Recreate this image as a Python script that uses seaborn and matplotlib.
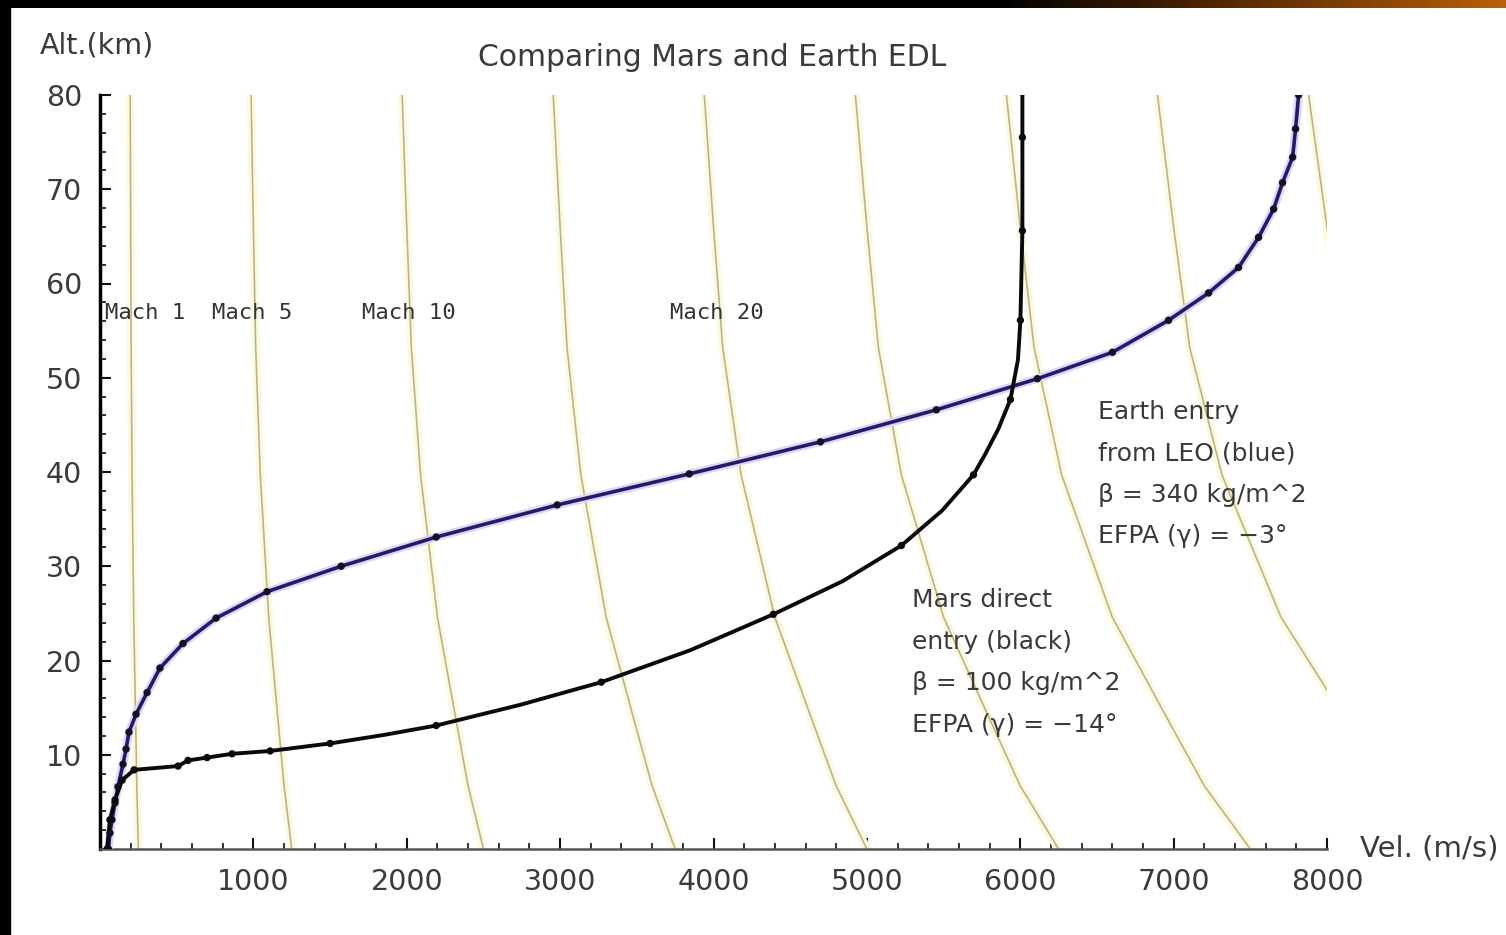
import numpy as np
import pandas as pd
import matplotlib.pyplot as plt
import seaborn as sns
from matplotlib.colors import LinearSegmentedColormap

# Earth entry from LEO (blue curve)
earth_vel = [7815, 7795, 7776, 7710, 7652, 7554, 7423, 7228, 6967, 6601, 6112,
             5453, 4697, 3842, 2981, 2192, 1572, 1089, 757, 541, 391, 307, 235,
             189, 170, 150, 117, 98, 78, 65, 55]
earth_alt = [80.0, 76.4, 73.4, 70.7, 67.9, 64.9, 61.7, 59.0, 56.1, 52.7, 49.9,
             46.6, 43.2, 39.8, 36.5, 33.1, 30.0, 27.3, 24.5, 21.8, 19.2, 16.6, 14.3,
             12.4, 10.6, 9.0, 6.6, 4.9, 3.1, 1.7, 0.0]

# Mars direct entry (black curve): marked points
mars_vel = [6014, 6014, 6014, 6001, 5936, 5695, 5225, 4390, 3268,
            2192, 1500, 1109, 861, 698, 574, 509, 222, 144, 98, 65, 46]
mars_alt = [80.3, 75.5, 65.6, 56.1, 47.7, 39.7, 32.2, 24.9, 17.7,
            13.1, 11.2, 10.4, 10.1, 9.7, 9.4, 8.8, 8.4, 7.3, 5.2, 3.1, 0.0]
# extra points along the black trace (no marker)
mars_path_vel = [6014, 6014, 6001, 5985, 5936, 5858, 5772, 5695, 5490, 5225, 4840,
                 4390, 3850, 3268, 2740, 2192, 1850, 1500, 1109, 861, 698,
                 574, 509, 222, 144, 98, 65, 46]
mars_path_alt = [80.3, 65.6, 56.1, 51.9, 47.7, 44.6, 41.9, 39.7, 35.9, 32.2, 28.4,
                 24.9, 21.1, 17.7, 15.3, 13.1, 12.1, 11.2, 10.4, 10.1, 9.7,
                 9.4, 8.8, 8.4, 7.3, 5.2, 3.1, 0.0]

# speed of sound profile (Mars)
sound_alt = [0, 6.7, 13.8, 24.6, 39.7, 53.2, 66, 80]
sound_speed = [250, 240, 232, 220, 209, 203, 200, 197]
mach_numbers = [1, 5, 10, 15, 20, 25, 30, 35, 40]

mach_labels = ["Mach 1", "Mach 5", "Mach 10", "Mach 20"]
mach_label_vel = [33, 730, 1709, 3718]

earth_text = ["Earth entry", "from LEO (blue)", "β = 340 kg/m^2", "EFPA (γ) = −3°"]
mars_text = ["Mars direct", "entry (black)", "β = 100 kg/m^2", "EFPA (γ) = −14°"]

earth_df = pd.DataFrame({"vel": earth_vel, "alt": earth_alt})
mars_df = pd.DataFrame({"vel": mars_vel, "alt": mars_alt})
mars_path = pd.DataFrame({"vel": mars_path_vel, "alt": mars_path_alt})
mach_df = pd.DataFrame([
    {"mach": m, "vel": m * a, "alt": h}
    for m in mach_numbers for a, h in zip(sound_speed, sound_alt)
])

sns.set_theme(style="white")
plt.rcParams['font.family'] = ['DejaVu Sans']
txt = '#3a3a3a'

fig = plt.figure(figsize=(15.06, 9.35), dpi=100)
ax = fig.add_axes([100 / 1506, 86 / 935, 1227 / 1506, 754 / 935])

# Mach lines: pale glow + thin olive core
sns.lineplot(data=mach_df, x="vel", y="alt", units="mach", estimator=None, sort=False,
             color='#fbf9e2', linewidth=6, ax=ax, zorder=1)
sns.lineplot(data=mach_df, x="vel", y="alt", units="mach", estimator=None, sort=False,
             color='#bdb382', linewidth=1.2, ax=ax, zorder=2)

# Earth curve
sns.lineplot(data=earth_df, x="vel", y="alt", sort=False, estimator=None,
             color='#ddd6f6', linewidth=6, ax=ax, zorder=3)
sns.lineplot(data=earth_df, x="vel", y="alt", sort=False, estimator=None,
             color='#27196a', linewidth=2.6, ax=ax, zorder=4)
sns.scatterplot(data=earth_df, x="vel", y="alt", color='#111122', s=28,
                edgecolor='none', ax=ax, zorder=5)

# Mars curve
sns.lineplot(data=mars_path, x="vel", y="alt", sort=False, estimator=None,
             color='#0a0a0a', linewidth=2.8, ax=ax, zorder=4)
sns.scatterplot(data=mars_df, x="vel", y="alt", color='#0a0a0a', s=28,
                edgecolor='none', ax=ax, zorder=5)

for lab, v in zip(mach_labels, mach_label_vel):
    ax.text(v, 56.9, lab, fontsize=16, family='DejaVu Sans Mono', color='#333333',
            va='center', ha='left', zorder=6)

for i, line in enumerate(earth_text):
    ax.text(6504, 46.4 - i * 4.4, line, fontsize=18, color=txt, va='center', ha='left')
for i, line in enumerate(mars_text):
    ax.text(5297, 26.4 - i * 4.4, line, fontsize=18, color=txt, va='center', ha='left')

ax.set_xlim(0, 8000)
ax.set_ylim(0, 80)
ax.set_xlabel("")
ax.set_ylabel("")
ax.set_xticks(range(1000, 8001, 1000))
ax.set_xticks(range(0, 8001, 200), minor=True)
ax.set_yticks(range(10, 81, 10))
ax.set_yticks(range(0, 81, 2), minor=True)
ax.tick_params(axis='both', which='major', direction='in', length=8, width=1.5,
               colors='#111111', labelsize=20.5, labelcolor=txt)
ax.tick_params(axis='both', which='minor', direction='in', length=4, width=1.2,
               colors='#111111')
ax.tick_params(axis='x', which='both', bottom=True, pad=14)
ax.tick_params(axis='y', which='both', left=True, pad=13)
for s in ['top', 'right']:
    ax.spines[s].set_visible(False)
ax.spines['left'].set_color('#000000')
ax.spines['left'].set_linewidth(2.5)
ax.spines['bottom'].set_color('#555555')
ax.spines['bottom'].set_linewidth(1.8)
ax.set_facecolor('white')

ax.text(0.4988, 1.05, "Comparing Mars and Earth EDL", transform=ax.transAxes,
        fontsize=21.5, color=txt, ha='center', va='center')
ax.text(-0.049, 1.066, "Alt.(km)", transform=ax.transAxes, fontsize=20.5,
        color=txt, ha='left', va='center')
ax.text(1.027, 0.0, "Vel. (m/s)", transform=ax.transAxes, fontsize=21,
        color=txt, ha='left', va='center')

# dark frame strips of the original screenshot
fig.patches.append(plt.Rectangle((0, 0), 10 / 1506, 1, transform=fig.transFigure,
                                 color='black', zorder=10))
bar = fig.add_axes([0, 1 - 8 / 935, 1, 8 / 935])
cmap = LinearSegmentedColormap.from_list(
    'bar', [(0, 'black'), (1000 / 1506, 'black'), (1200 / 1506, '#4a2300'), (1, '#b8600a')])
bar.imshow(np.linspace(0, 1, 512)[None, :], aspect='auto', cmap=cmap)
bar.axis('off')

fig.savefig('out.png', dpi=100)
